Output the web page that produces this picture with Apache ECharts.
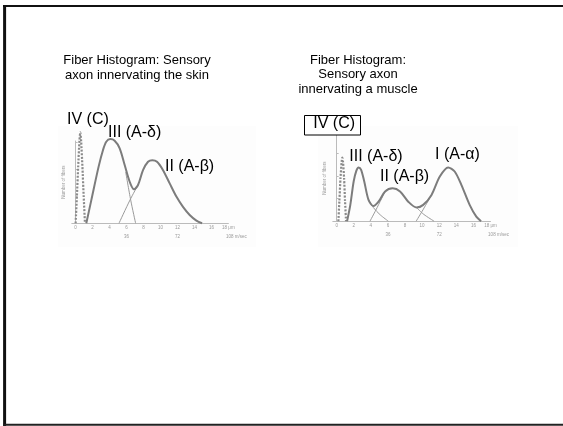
<!DOCTYPE html>
<html><head><meta charset="utf-8">
<script src="https://cdn.jsdelivr.net/npm/echarts@6/dist/echarts.min.js"></script>
<style>html,body{margin:0;padding:0;background:#fff}#c{width:563px;height:426px}</style>
</head><body><div id="c"></div>
<script>
// ---- data (x in µm, y = number of fibers, arbitrary units) ----
const diamTicks = [0, 2, 4, 6, 8, 10, 12, 14, 16, 18];
const speedTicks = [6, 12, 18];
const speedLabels = ['36', '72', '108 m/sec'];
const yTicks = [0, 1, 2, 3];

// Skin
const skinC = [[0,0],[0.15,1.0],[0.3,2.1],[0.45,3.05],[0.55,3.37],[0.65,3.05],[0.8,2.1],[0.95,1.0],[1.1,0]];
const skinEnvelope = [[1.26,0],[1.85,0.86],[2.71,2.1],[3.22,2.71],[3.61,3.02],[4.09,3.12],[4.6,3.06],[5.19,2.78],[5.78,2.16],[6.37,1.54],[6.88,1.26],[7.35,1.42],[7.94,1.97],[8.53,2.28],[9.04,2.34],[9.59,2.28],[10.3,1.97],[11.08,1.48],[11.87,0.99],[12.65,0.61],[13.44,0.31],[14.23,0.1],[14.9,0]];
const skinDeltaTail = [[5.9,1.9],[6.49,0.86],[7.07,0]];
const skinBetaRise = [[5.11,0],[6.4,0.86],[7.35,1.42]];

// Muscle
const muscleC = [[0.2,0],[0.32,0.9],[0.45,1.9],[0.58,2.6],[0.66,2.8],[0.75,2.6],[0.87,1.9],[0.98,0.9],[1.1,0]];
const muscleEnvelope = [[1.22,0],[1.6,0.72],[1.99,1.75],[2.3,2.22],[2.57,2.37],[2.85,2.27],[3.23,1.75],[3.73,0.94],[4.3,0.67],[4.9,0.86],[5.67,1.31],[6.55,1.45],[7.42,1.31],[8.38,0.86],[9.35,0.6],[10.13,0.72],[11.1,1.16],[12.07,1.97],[13.05,2.37],[13.81,2.19],[14.59,1.6],[15.56,0.72],[16.34,0.2],[16.9,0]];
const muscleDeltaTail = [[3.73,0.94],[4.3,0.6],[5.1,0.28],[6.05,0]];
const muscleBetaRise = [[3.9,0],[4.6,0.5],[5.67,1.31]];
const muscleBetaTail = [[9.35,0.6],[10.2,0.3],[11.4,0]];
const muscleAlphaRise = [[9.3,0],[10.1,0.5],[11.1,1.16]];

const labelsSkin = ['IV (C)', 'III (A-δ)', 'II (A-β)'];
const labelsMuscle = ['IV (C)', 'III (A-δ)', 'II (A-β)', 'I (A-α)'];
const titleSkin = 'Fiber Histogram: Sensory\naxon innervating the skin';
const titleMuscle = 'Fiber Histogram:\nSensory axon\ninnervating a muscle';
const yName = 'Number of fibers';

// ---- chart ----
const chart = echarts.init(document.getElementById('c'), null, {renderer: 'canvas'});
const grey = '#9a9a9a';
const tiny = {fontSize: 4.5, color: '#999', fontFamily: 'Liberation Sans'};

function xAxes(gi) {
  return [{
    type: 'value', gridIndex: gi, min: -0.45, max: 18,
    axisLine: {show: true, onZero: false, lineStyle: {color: '#bbb', width: 1}},
    axisTick: {show: false}, splitLine: {show: false},
    axisLabel: Object.assign({}, tiny, {margin: 2, customValues: diamTicks,
      formatter: v => v === 18 ? '18 μm' : String(v)})
  }, {
    type: 'value', gridIndex: gi, min: -0.45, max: 18, position: 'bottom', offset: 9,
    axisLine: {show: false}, axisTick: {show: false}, splitLine: {show: false},
    axisLabel: Object.assign({}, tiny, {margin: 2, customValues: speedTicks,
      formatter: v => { const s = speedLabels[speedTicks.indexOf(v)]; return v === 18 ? '{u|' + s + '}' : s; },
      rich: {u: Object.assign({}, tiny, {padding: [0, 0, 0, 16]})}})
  }];
}
function yAxis(gi, max) {
  return {
    type: 'value', gridIndex: gi, min: 0, max: max,
    name: yName, nameLocation: 'middle', nameRotate: 90, nameGap: 6,
    nameTextStyle: tiny,
    axisLine: {show: true, lineStyle: {color: '#bbb', width: 1}},
    axisTick: {show: true, inside: true, length: 2, customValues: yTicks.slice(1), lineStyle: {color: '#bbb'}},
    axisLabel: {show: false}, splitLine: {show: false}
  };
}
function line(data, xi, yi, kind) {
  const s = {
    type: 'line', data: data, xAxisIndex: xi, yAxisIndex: yi, symbol: 'none',
    smooth: 0.3, silent: true, clip: false, z: 3,
    lineStyle: {color: '#7c7c7c', width: 2}
  };
  if (kind === 'tail') s.lineStyle = {color: grey, width: 1};
  if (kind === 'dash') { s.lineStyle = {color: '#8a8a8a', width: 2.2, type: [2, 1.5]}; s.smooth = 0.2; }
  return s;
}
function label(text, x, cy, size) {
  return {type: 'text', left: x, top: cy - 9, z: 10,
    style: {text: text, fontSize: size || 16, fontFamily: 'Liberation Sans', fill: '#000'}};
}
function title(text, cx, top) {
  return {type: 'text', x: cx, y: top, z: 10,
    style: {text: text, fontSize: 13, lineHeight: 14.5, align: 'center', verticalAlign: 'top',
      fontFamily: 'Liberation Sans', fill: '#000'}};
}

const option = {
  backgroundColor: '#fff',
  animation: false,
  grid: [
    {left: 71.8, top: 141, width: 156.6, height: 82.3},
    {left: 332.8, top: 135, width: 157.7, height: 86.2}
  ],
  xAxis: [...xAxes(0), ...xAxes(1)],
  yAxis: [yAxis(0, 3.05), yAxis(1, 3.8)],
  series: [
    line(skinC, 0, 0, 'dash'),
    line(skinDeltaTail, 0, 0, 'tail'),
    line(skinBetaRise, 0, 0, 'tail'),
    line(skinEnvelope, 0, 0),
    line(muscleC, 2, 1, 'dash'),
    line(muscleDeltaTail, 2, 1, 'tail'),
    line(muscleBetaRise, 2, 1, 'tail'),
    line(muscleBetaTail, 2, 1, 'tail'),
    line(muscleAlphaRise, 2, 1, 'tail'),
    line(muscleEnvelope, 2, 1)
  ],
  graphic: [
    {type: 'rect', shape: {x: 58, y: 126, width: 198, height: 121}, style: {fill: '#fdfdfd'}, z: -1},
    {type: 'rect', shape: {x: 318, y: 126, width: 200, height: 121}, style: {fill: '#fdfdfd'}, z: -1},
    // slide frame (top, left, bottom)
    {type: 'line', shape: {x1: 3, y1: 6, x2: 563, y2: 6}, style: {stroke: '#111', lineWidth: 2.2}, z: 20},
    {type: 'line', shape: {x1: 4.6, y1: 5, x2: 4.6, y2: 426}, style: {stroke: '#111', lineWidth: 3}, z: 20},
    {type: 'line', shape: {x1: 3, y1: 424.8, x2: 563, y2: 424.8}, style: {stroke: '#222', lineWidth: 2}, z: 20},
    title(titleSkin, 137, 53.5),
    title(titleMuscle, 358, 53),
    label(labelsSkin[0], 67, 120.7),
    label(labelsSkin[1], 108, 133.5),
    label(labelsSkin[2], 165, 168),
    {type: 'rect', shape: {x: 304.5, y: 115.5, width: 56, height: 19.5}, style: {fill: '#fff', stroke: '#000', lineWidth: 1}, z: 9},
    label(labelsMuscle[0], 313.3, 125),
    label(labelsMuscle[1], 349.3, 157.3),
    label(labelsMuscle[2], 380, 177.3),
    label(labelsMuscle[3], 435, 155.5)
  ]
};
chart.setOption(option);
</script></body></html>
